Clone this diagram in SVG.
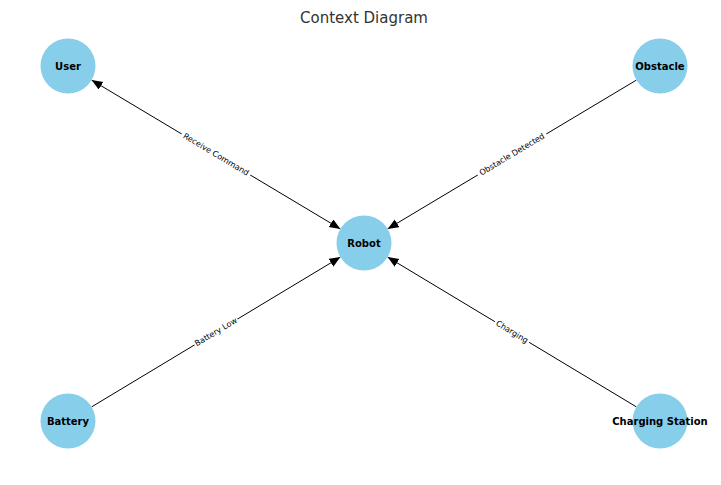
<svg xmlns="http://www.w3.org/2000/svg" width="721" height="485" viewBox="0 0 721 485">
<style>
.node{fill:#87CEEB}
.nl{font-family:"DejaVu Sans",sans-serif;font-size:10px;font-weight:bold;fill:#000;text-anchor:middle;dominant-baseline:central}
.edge{stroke:#000;stroke-width:1;fill:none}
.el{font-family:"DejaVu Sans",sans-serif;font-size:8px;fill:#000;text-anchor:middle;dominant-baseline:central}
.bg{fill:#fff}
.title{font-family:"DejaVu Sans",sans-serif;font-size:15px;fill:#333;text-anchor:middle}
</style>
<defs>
<marker id="arr" markerUnits="userSpaceOnUse" markerWidth="12" markerHeight="10" refX="11" refY="4.5" orient="auto-start-reverse">
<path d="M0,0 L11,4.5 L0,9 z" fill="#000"/>
</marker>
</defs>
<rect width="721" height="485" fill="#fff"/>
<text class="title" x="364" y="23">Context Diagram</text>
<g id="connectors">
<line class="edge" x1="91.6" y1="80.1" x2="340.4" y2="228.9" marker-start="url(#arr)" marker-end="url(#arr)"/>
<line class="edge" x1="636.4" y1="80.1" x2="387.6" y2="228.9" marker-end="url(#arr)"/>
<line class="edge" x1="91.6" y1="406.9" x2="340.4" y2="257.1" marker-end="url(#arr)"/>
<line class="edge" x1="636.4" y1="406.9" x2="387.6" y2="257.1" marker-end="url(#arr)"/>
<g transform="translate(216,154.5) rotate(30.9)"><rect class="bg" x="-40" y="-5" width="80" height="10"/><text class="el">Receive Command</text></g>
<g transform="translate(512,154.5) rotate(-30.9)"><rect class="bg" x="-40" y="-5" width="80" height="10"/><text class="el">Obstacle Detected</text></g>
<g transform="translate(216,332) rotate(-30.9)"><rect class="bg" x="-25" y="-5" width="50" height="10"/><text class="el">Battery Low</text></g>
<g transform="translate(512,332) rotate(30.9)"><rect class="bg" x="-20" y="-5" width="40" height="10"/><text class="el">Charging</text></g>
</g>
<g id="node-user"><circle class="node" cx="68" cy="66" r="27.5"/><text class="nl" x="68" y="66">User</text></g>
<g id="node-obstacle"><circle class="node" cx="660" cy="66" r="27.5"/><text class="nl" x="660" y="66">Obstacle</text></g>
<g id="node-robot"><circle class="node" cx="364" cy="243" r="27.5"/><text class="nl" x="364" y="243">Robot</text></g>
<g id="node-battery"><circle class="node" cx="68" cy="421" r="27.5"/><text class="nl" x="68" y="421">Battery</text></g>
<g id="node-charging"><circle class="node" cx="660" cy="421" r="27.5"/><text class="nl" x="660" y="421">Charging Station</text></g>
</svg>
